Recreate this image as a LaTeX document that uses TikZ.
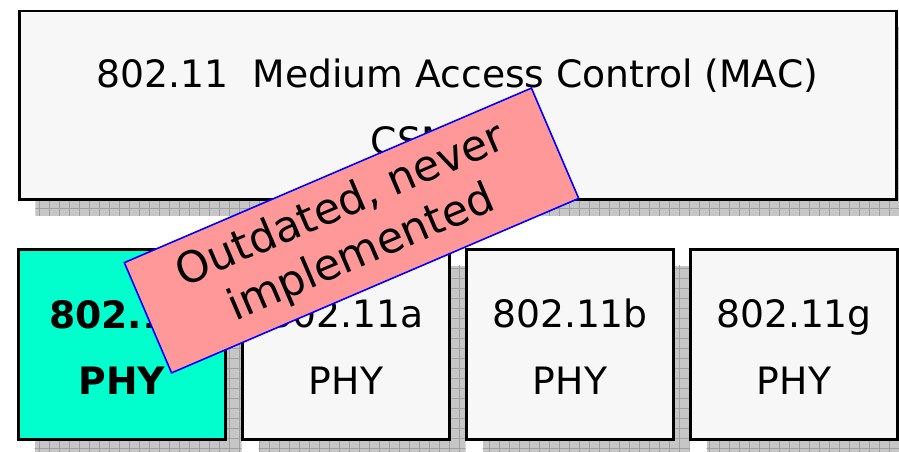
\documentclass[tikz,border=0pt]{standalone}
\usepackage{fontspec}
\setmainfont{DejaVu Sans}
\usetikzlibrary{backgrounds}
\definecolor{panel}{HTML}{F7F7F7}
\definecolor{phyteal}{HTML}{00FFCC}
\definecolor{stamp}{HTML}{FF9999}
\definecolor{shadowgrey}{HTML}{C6C6C6}
\definecolor{shadowline}{HTML}{A0A0A0}
% drop shadow behind a named box: grey with a 10pt hatch, offset down and right
\newcommand\castshadow[1]{%
  \begin{scope}
    \clip ([shift={(16,16)}]#1.north west) rectangle ([shift={(16,16)}]#1.south east);
    \fill[shadowgrey] ([shift={(16,16)}]#1.north west) rectangle ([shift={(16,16)}]#1.south east);
    \foreach \i in {0,...,90}{\draw[shadowline,line width=1pt] (\i*10+9,0) -- (\i*10+9,460);}
    \foreach \j in {0,...,45}{\draw[shadowline,line width=1pt] (0,\j*10+8) -- (910,\j*10+8);}
  \end{scope}}
\begin{document}
\begin{tikzpicture}[x=1pt,y=-1pt,
  layer/.style={draw=black,line width=2.6pt,fill=panel,inner sep=0pt,outer sep=0pt,
    minimum width=877,minimum height=188.5},
  phy/.style={layer,minimum width=207,minimum height=190},
  lbl/.style={font=\fontsize{37.7}{44}\selectfont,anchor=base,inner sep=0pt},
  boldlbl/.style={lbl,font=\fontsize{37.7}{44}\selectfont\bfseries},
  note/.style={draw=blue,line width=1.6pt,fill=stamp,rotate=23.2,
    minimum width=443,minimum height=120,inner sep=0pt,align=center,
    font=\fontsize{43}{52}\selectfont}]
\useasboundingbox (0,0) rectangle (899,451);

% layer boxes
\node[layer] (mac) at (457.75,105.25) {};
\node[phy,fill=phyteal] (phy0) at (122,344.75) {};
\node[phy] (phya) at (346,344.75) {};
\node[phy] (phyb) at (570,344.75) {};
\node[phy] (phyg) at (794,344.75) {};

\begin{pgfonlayer}{background}
  \castshadow{mac}
  \castshadow{phy0}
  \castshadow{phya}
  \castshadow{phyb}
  \castshadow{phyg}
\end{pgfonlayer}

% labels
\node[lbl] (macname) at (457.5,87.7) {802.11\ \ Medium Access Control (MAC)};
\node[lbl] (macmode) at (457.5,154) {CSMA/CA};
\node[boldlbl] (n0) at (122,328) {802.11};
\node[boldlbl] (p0) at (122,394.3) {PHY};
\node[lbl] (na) at (346,327.7) {802.11a};
\node[lbl] (pa) at (346,394.3) {PHY};
\node[lbl] (nb) at (570,327.7) {802.11b};
\node[lbl] (pb) at (570,394.3) {PHY};
\node[lbl] (ng) at (794,327.7) {802.11g};
\node[lbl] (pg) at (794,394.3) {PHY};

% banner across the legacy PHY
\node[note] (legacy) at (351.5,230.5) {Outdated, never\\implemented};
\end{tikzpicture}
\end{document}
